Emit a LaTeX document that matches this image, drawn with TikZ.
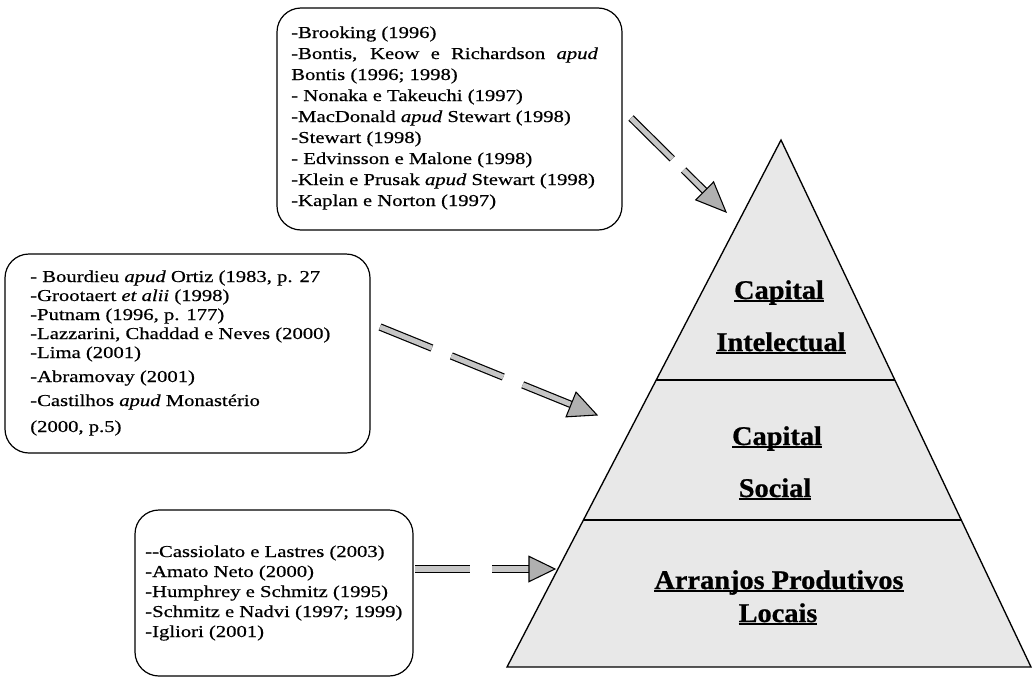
\documentclass[tikz,border=0pt]{standalone}
\usepackage{fontspec}
\setmainfont{Liberation Serif}
\newfontfamily\boxfont[FakeStretch=1.24,FakeBold=0.6]{Liberation Serif}
\newfontfamily\pyrfont[FakeStretch=1.05,FakeBold=0.8]{Liberation Serif}
\usetikzlibrary{calc}
\newcommand\ulw[1]{\setbox0\hbox{#1}\rlap{\rule[-2.6pt]{\wd0}{1.5pt}}\box0}
\tikzset{
  refbox/.style={draw=black, line width=0.9pt, rounded corners=18pt, rectangle, inner sep=0pt},
  reftext/.style={anchor=base west, inner sep=0pt, font=\boxfont\fontsize{12.5pt}{15pt}\selectfont},
  layer/.style={draw=black, line width=1pt, fill=gray!18, line join=miter},
  divider/.style={draw=black, line width=1pt},
  layertext/.style={anchor=base, inner sep=0pt, font=\pyrfont\bfseries\fontsize{20.25pt}{24pt}\selectfont},
  shaft/.style={draw=black, line width=0.9pt, double=gray!45, double distance=3.8pt, line cap=butt},
  headst/.style={draw=black, line width=0.8pt, fill=gray!62, line join=miter}
}
\begin{document}
\begin{tikzpicture}[x=0.75pt,y=-0.75pt]
\useasboundingbox (0,0) rectangle (1034,678);
% ---------- boxes ----------
\node[refbox, minimum width=258.75pt, minimum height=166.5pt] (boxA) at (449.5,119) {};
\node[refbox, minimum width=273.75pt, minimum height=149.25pt] (boxB) at (187.5,353.5) {};
\node[refbox, minimum width=208.5pt, minimum height=124.5pt] (boxC) at (274,593) {};
% ---------- top box text ----------
\foreach \txt [count=\i] in {
  {-Brooking (1996)},
  {\makebox[230pt][s]{-Bontis, Keow e Richardson \textit{apud}}},
  {Bontis (1996; 1998)},
  {- Nonaka e Takeuchi (1997)},
  {-MacDonald \textit{apud} Stewart (1998)},
  {-Stewart (1998)},
  {- Edvinsson e Malone (1998)},
  {-Klein e Prusak \textit{apud} Stewart (1998)},
  {-Kaplan e Norton (1997)}}
  \node[reftext] (ta\i) at (291,{38+21*(\i-1)}) {\txt};
% ---------- middle box text ----------
\foreach \yy/\txt [count=\i] in {
  282/{- Bourdieu \textit{apud} Ortiz (1983, p. 27},
  301/{-Grootaert \textit{et alii} (1998)},
  320/{-Putnam (1996, p. 177)},
  339/{-Lazzarini, Chaddad e Neves (2000)},
  358/{-Lima (2001)},
  382/{-Abramovay (2001)},
  406/{-Castilhos \textit{apud} Monastério},
  432/{(2000, p.5)}}
  \node[reftext] (tb\i) at (30,\yy) {\txt};
% ---------- bottom box text ----------
\foreach \yy/\txt [count=\i] in {
  557/{--Cassiolato e Lastres (2003)},
  577/{-Amato Neto (2000)},
  597/{-Humphrey e Schmitz (1995)},
  617/{-Schmitz e Nadvi (1997; 1999)},
  637/{-Igliori (2001)}}
  \node[reftext] (tc\i) at (145,\yy) {\txt};
% ---------- pyramid ----------
\coordinate (apex) at (781,140);
\coordinate (bl) at (507,667);
\coordinate (br) at (1031,667);
\coordinate (l1) at ($(apex)!0.4554!(bl)$);
\coordinate (r1) at ($(apex)!0.4554!(br)$);
\coordinate (l2) at ($(apex)!0.7211!(bl)$);
\coordinate (r2) at ($(apex)!0.7211!(br)$);
\draw[layer] (apex) -- (bl) -- (br) -- cycle;
\draw[divider] (l1) -- (r1);
\draw[divider] (l2) -- (r2);
\node[layertext] (ci1) at (779,299) {\ulw{Capital}};
\node[layertext] (ci2) at (781,351) {\ulw{Intelectual}};
\node[layertext] (cs1) at (777,445) {\ulw{Capital}};
\node[layertext] (cs2) at (775,497) {\ulw{Social}};
\node[layertext] (apl1) at (779,589) {\ulw{Arranjos Produtivos}};
\node[layertext] (apl2) at (778,622) {\ulw{Locais}};
% ---------- arrows ----------
\coordinate (a1s) at (631,118);
\coordinate (a1t) at (726,212);
\coordinate (h1) at ($(a1t)!22.5pt!(a1s)$);
\draw[shaft, dash pattern=on 43.5pt off 12pt] (a1s) -- (h1);
\draw[headst] (a1t) -- ($(h1)!9.5pt!90:(a1t)$) -- ($(h1)!9.5pt!-90:(a1t)$) -- cycle;

\coordinate (a2s) at (380,327);
\coordinate (a2t) at (597,415);
\coordinate (h2) at ($(a2t)!21pt!(a2s)$);
\draw[shaft, dash pattern=on 42pt off 15.75pt] (a2s) -- (h2);
\draw[headst] (a2t) -- ($(h2)!10pt!90:(a2t)$) -- ($(h2)!10pt!-90:(a2t)$) -- cycle;

\coordinate (a3s) at (415,569);
\coordinate (a3t) at (555,569);
\coordinate (h3) at ($(a3t)!19.5pt!(a3s)$);
\draw[shaft, dash pattern=on 41.25pt off 16.5pt] (a3s) -- (h3);
\draw[headst] (a3t) -- ($(h3)!9.5pt!90:(a3t)$) -- ($(h3)!9.5pt!-90:(a3t)$) -- cycle;
\end{tikzpicture}
\end{document}
